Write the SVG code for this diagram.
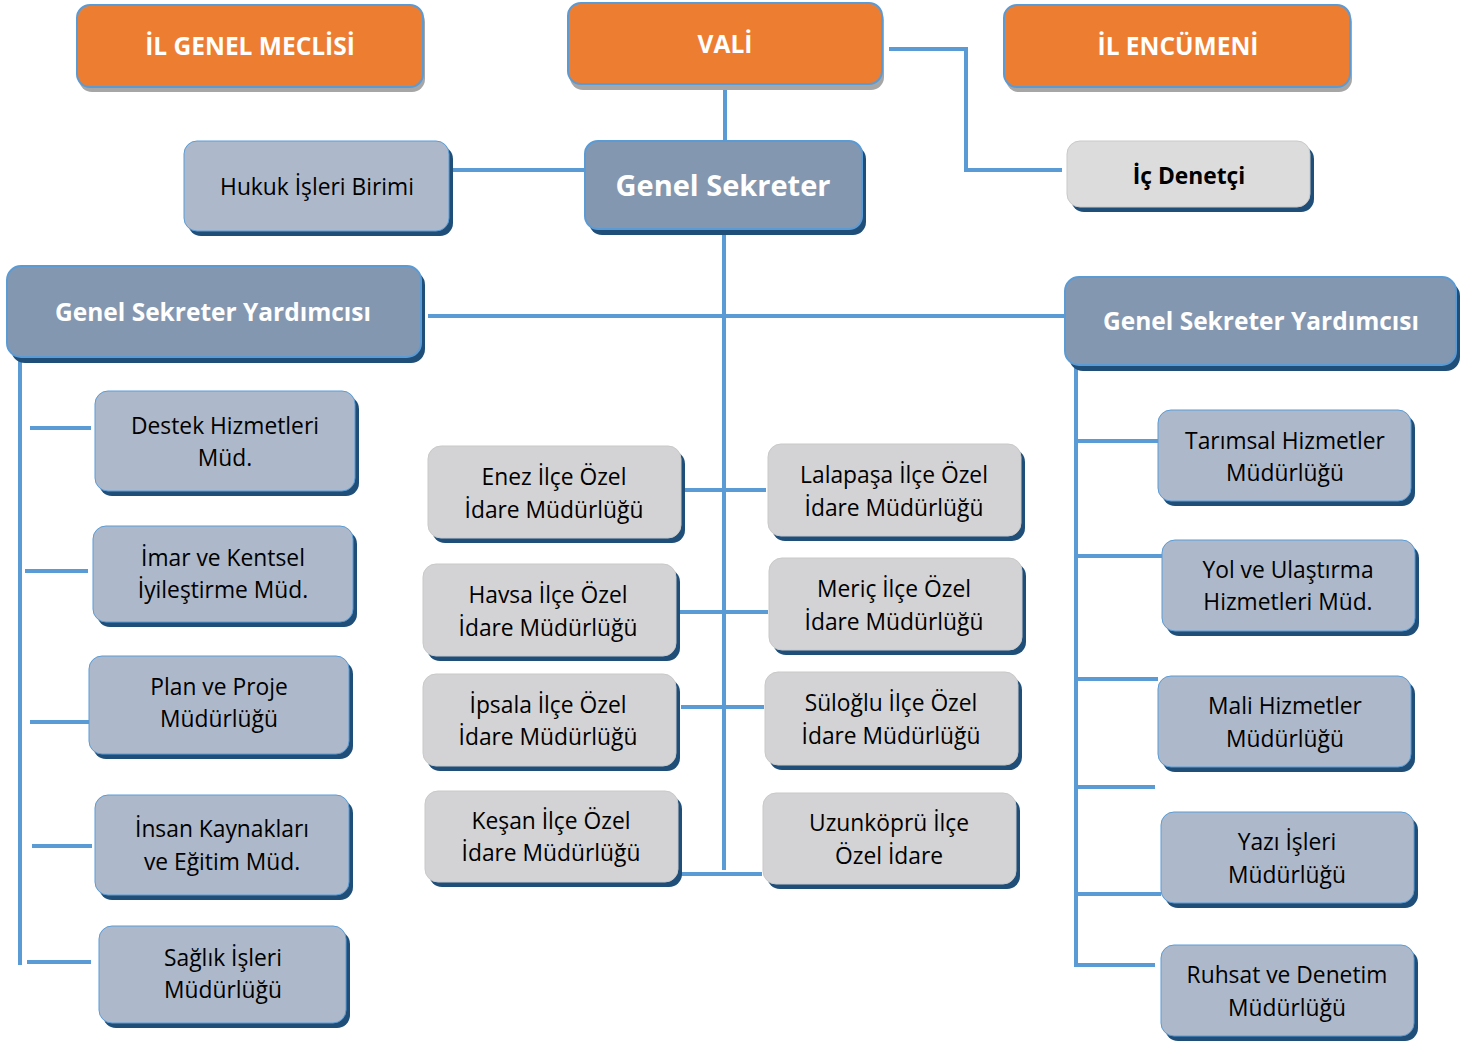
<svg xmlns="http://www.w3.org/2000/svg" width="1478" height="1044" viewBox="0 0 1478 1044">
<style>
.sh{fill:#1f4e79}
.shg{fill:#a6a6a6}
.or{fill:#ed7d31;stroke:#5b9bd5;stroke-width:2}
.dk{fill:#8497b0;stroke:#5b9bd5;stroke-width:2}
.lt{fill:#adb9ca;stroke:#5b9bd5;stroke-width:1}
.gr{fill:#d3d3d5;stroke:#c9c9c9;stroke-width:1}
.gy{fill:#dcdcdc;stroke:#c9c9c9;stroke-width:1}
text{font-family:"Open Sans","Noto Sans","Liberation Sans",sans-serif;text-anchor:middle}
.tw{fill:#ffffff;font-weight:bold;font-size:24.5px}
.tb{fill:#000000;font-size:22.8px}
.conn line,.conn polyline{stroke:#5b9bd5;stroke-width:4;fill:none}
</style>
<rect width="1478" height="1044" fill="#ffffff"/>
<g class="conn" id="connectors">
<line x1="725" y1="84" x2="725" y2="141"/>
<polyline points="889,49 966,49 966,170 1062,170"/>
<line x1="453" y1="170" x2="585" y2="170"/>
<line x1="724" y1="232" x2="724" y2="870"/>
<line x1="428" y1="316" x2="1065" y2="316"/>
<line x1="20" y1="357" x2="20" y2="965"/>
<line x1="30" y1="428" x2="91" y2="428"/>
<line x1="25" y1="571" x2="88" y2="571"/>
<line x1="30" y1="722" x2="90" y2="722"/>
<line x1="32" y1="846" x2="92" y2="846"/>
<line x1="27" y1="962" x2="91" y2="962"/>
<line x1="1076" y1="366" x2="1076" y2="965"/>
<line x1="1076" y1="441" x2="1158" y2="441"/>
<line x1="1076" y1="556" x2="1162" y2="556"/>
<line x1="1076" y1="679" x2="1158" y2="679"/>
<line x1="1078" y1="787" x2="1155" y2="787"/>
<line x1="1076" y1="894" x2="1161" y2="894"/>
<line x1="1074" y1="965" x2="1155" y2="965"/>
<line x1="684" y1="490" x2="766" y2="490"/>
<line x1="680" y1="612" x2="768" y2="612"/>
<line x1="681" y1="707" x2="764" y2="707"/>
<line x1="680" y1="874" x2="762" y2="874"/>
</g>

<g id="il-genel-meclisi"><rect class="shg" x="79" y="9" width="346" height="83" rx="13"/><rect class="or" x="77" y="5" width="346" height="82" rx="13"/><text class="tw" x="250" y="55">İL GENEL MECLİSİ</text></g>
<g id="vali"><rect class="shg" x="570" y="7" width="314" height="83" rx="13"/><rect class="or" x="568" y="3" width="314" height="81" rx="13"/><text class="tw" x="725" y="53">VALİ</text></g>
<g id="il-encumeni"><rect class="shg" x="1006" y="9" width="346" height="83" rx="13"/><rect class="or" x="1004" y="5" width="346" height="82" rx="13"/><text class="tw" x="1178" y="55">İL ENCÜMENİ</text></g>

<g id="genel-sekreter"><rect class="sh" x="589" y="146" width="277" height="89" rx="13"/><rect class="dk" x="585" y="141" width="277" height="88" rx="13"/><text class="tw" x="723" y="196" style="font-size:29px">Genel Sekreter</text></g>
<g id="hukuk"><rect class="sh" x="188" y="146" width="265" height="90" rx="13"/><rect class="lt" x="184" y="141" width="265" height="90" rx="13"/><text class="tb" x="317" y="195">Hukuk İşleri Birimi</text></g>
<g id="ic-denetci"><rect class="sh" x="1071" y="146" width="243" height="66" rx="13"/><rect class="gy" x="1067" y="141" width="243" height="66" rx="13"/><text class="tb" x="1189" y="184" style="font-weight:bold">İç Denetçi</text></g>

<g id="gsy-left"><rect class="sh" x="11" y="271" width="414" height="92" rx="14"/><rect class="dk" x="7" y="266" width="414" height="91" rx="14"/><text class="tw" x="213" y="321">Genel Sekreter Yardımcısı</text></g>
<g id="gsy-right"><rect class="sh" x="1069" y="282" width="391" height="89" rx="14"/><rect class="dk" x="1065" y="277" width="391" height="88" rx="14"/><text class="tw" x="1261" y="330">Genel Sekreter Yardımcısı</text></g>

<g id="destek"><rect class="sh" x="99" y="396" width="260" height="100" rx="13"/><rect class="lt" x="95" y="391" width="260" height="100" rx="13"/><text class="tb" x="225" y="434">Destek Hizmetleri</text><text class="tb" x="225" y="466">Müd.</text></g>
<g id="imar"><rect class="sh" x="97" y="531" width="260" height="96" rx="13"/><rect class="lt" x="93" y="526" width="260" height="96" rx="13"/><text class="tb" x="223" y="566">İmar ve Kentsel</text><text class="tb" x="223" y="598">İyileştirme Müd.</text></g>
<g id="plan"><rect class="sh" x="93" y="661" width="260" height="98" rx="13"/><rect class="lt" x="89" y="656" width="260" height="98" rx="13"/><text class="tb" x="219" y="695">Plan ve Proje</text><text class="tb" x="219" y="727">Müdürlüğü</text></g>
<g id="insan"><rect class="sh" x="99" y="800" width="254" height="100" rx="13"/><rect class="lt" x="95" y="795" width="254" height="100" rx="13"/><text class="tb" x="222" y="837">İnsan Kaynakları</text><text class="tb" x="222" y="870">ve Eğitim Müd.</text></g>
<g id="saglik"><rect class="sh" x="103" y="931" width="247" height="97" rx="13"/><rect class="lt" x="99" y="926" width="247" height="97" rx="13"/><text class="tb" x="223" y="966">Sağlık İşleri</text><text class="tb" x="223" y="998">Müdürlüğü</text></g>

<g id="enez"><rect class="sh" x="432" y="451" width="253" height="92" rx="13"/><rect class="gr" x="428" y="446" width="253" height="92" rx="13"/><text class="tb" x="554" y="485">Enez İlçe Özel</text><text class="tb" x="554" y="518">İdare Müdürlüğü</text></g>
<g id="havsa"><rect class="sh" x="427" y="569" width="253" height="92" rx="13"/><rect class="gr" x="423" y="564" width="253" height="92" rx="13"/><text class="tb" x="548" y="603">Havsa İlçe Özel</text><text class="tb" x="548" y="636">İdare Müdürlüğü</text></g>
<g id="ipsala"><rect class="sh" x="427" y="679" width="253" height="92" rx="13"/><rect class="gr" x="423" y="674" width="253" height="92" rx="13"/><text class="tb" x="548" y="713">İpsala İlçe Özel</text><text class="tb" x="548" y="745">İdare Müdürlüğü</text></g>
<g id="kesan"><rect class="sh" x="429" y="796" width="253" height="91" rx="13"/><rect class="gr" x="425" y="791" width="253" height="91" rx="13"/><text class="tb" x="551" y="829">Keşan İlçe Özel</text><text class="tb" x="551" y="861">İdare Müdürlüğü</text></g>

<g id="lalapasa"><rect class="sh" x="772" y="449" width="253" height="92" rx="13"/><rect class="gr" x="768" y="444" width="253" height="92" rx="13"/><text class="tb" x="894" y="483">Lalapaşa İlçe Özel</text><text class="tb" x="894" y="516">İdare Müdürlüğü</text></g>
<g id="meric"><rect class="sh" x="773" y="563" width="253" height="92" rx="13"/><rect class="gr" x="769" y="558" width="253" height="92" rx="13"/><text class="tb" x="894" y="597">Meriç İlçe Özel</text><text class="tb" x="894" y="630">İdare Müdürlüğü</text></g>
<g id="suloglu"><rect class="sh" x="769" y="677" width="253" height="93" rx="13"/><rect class="gr" x="765" y="672" width="253" height="93" rx="13"/><text class="tb" x="891" y="711">Süloğlu İlçe Özel</text><text class="tb" x="891" y="744">İdare Müdürlüğü</text></g>
<g id="uzunkopru"><rect class="sh" x="767" y="798" width="253" height="91" rx="13"/><rect class="gr" x="763" y="793" width="253" height="91" rx="13"/><text class="tb" x="889" y="831">Uzunköprü İlçe</text><text class="tb" x="889" y="864">Özel İdare</text></g>

<g id="tarimsal"><rect class="sh" x="1162" y="415" width="253" height="91" rx="13"/><rect class="lt" x="1158" y="410" width="253" height="91" rx="13"/><text class="tb" x="1285" y="449">Tarımsal Hizmetler</text><text class="tb" x="1285" y="481">Müdürlüğü</text></g>
<g id="yol"><rect class="sh" x="1166" y="545" width="253" height="91" rx="13"/><rect class="lt" x="1162" y="540" width="253" height="91" rx="13"/><text class="tb" x="1288" y="578">Yol ve Ulaştırma</text><text class="tb" x="1288" y="610">Hizmetleri Müd.</text></g>
<g id="mali"><rect class="sh" x="1162" y="681" width="253" height="91" rx="13"/><rect class="lt" x="1158" y="676" width="253" height="91" rx="13"/><text class="tb" x="1285" y="714">Mali Hizmetler</text><text class="tb" x="1285" y="747">Müdürlüğü</text></g>
<g id="yazi"><rect class="sh" x="1165" y="817" width="253" height="91" rx="13"/><rect class="lt" x="1161" y="812" width="253" height="91" rx="13"/><text class="tb" x="1287" y="850">Yazı İşleri</text><text class="tb" x="1287" y="883">Müdürlüğü</text></g>
<g id="ruhsat"><rect class="sh" x="1165" y="950" width="253" height="91" rx="13"/><rect class="lt" x="1161" y="945" width="253" height="91" rx="13"/><text class="tb" x="1287" y="983">Ruhsat ve Denetim</text><text class="tb" x="1287" y="1016">Müdürlüğü</text></g>
</svg>
